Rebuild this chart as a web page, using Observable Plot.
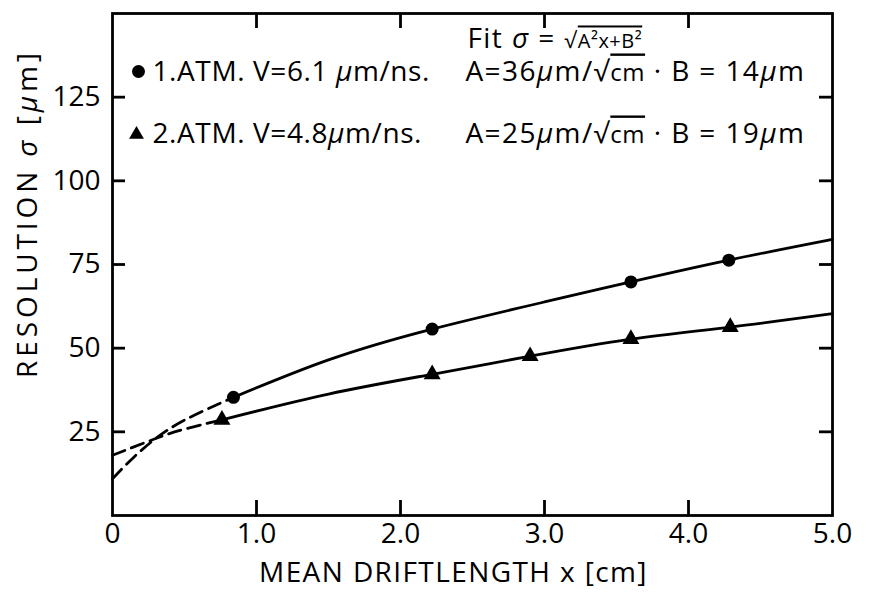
<!DOCTYPE html>
<html><head><meta charset="utf-8">
<script src="https://cdn.jsdelivr.net/npm/d3@7"></script>
<script src="https://cdn.jsdelivr.net/npm/@observablehq/plot@0.6"></script>
<style>body{margin:0;background:#fff} svg{display:block}</style>
</head><body><div id="chart"></div>
<script>
// ---- data ----
const xTicks = [0, 1, 2, 3, 4, 5];
const xTickLabels = ["0", "1.0", "2.0", "3.0", "4.0", "5.0"];
const xTickMarks = [1, 2, 3, 4];
const yTicks = [25, 50, 75, 100, 125];

// measured points
const atm1X = [0.84, 2.22, 3.6, 4.28];
const atm1Y = [35.3, 55.7, 69.8, 76.3];
const atm2X = [0.76, 2.22, 2.9, 3.6, 4.29];
const atm2Y = [28.6, 42.2, 47.6, 52.7, 56.3];

// fitted curves
const fit1DashX = [0, 0.15, 0.3, 0.5, 0.84];
const fit1DashY = [11, 17.5, 23, 28.5, 35.3];
const fit1X = [0.84, 1.5, 2.22, 3, 3.6, 4.28, 5];
const fit1Y = [35.3, 46.5, 55.7, 63.8, 69.8, 76.3, 82.5];
const fit2DashX = [0, 0.3, 0.5, 0.76];
const fit2DashY = [18, 23, 25.8, 28.6];
const fit2X = [0.76, 1.5, 2.22, 2.9, 3.6, 4.29, 5];
const fit2Y = [28.6, 36.3, 42.2, 47.6, 52.7, 56.3, 60.3];

const fitText = "Fit σ = √A²x+B²";
const row1Texts = ["1.ATM. V=6.1 μm/ns.", "A=36μm/√cm · B = 14μm"];
const row2Texts = ["2.ATM. V=4.8μm/ns.", "A=25μm/√cm · B = 19μm"];
const xLabel = "MEAN DRIFTLENGTH x [cm]";
const yLabel = "RESOLUTION σ [μm]";

// ---- build tables ----
const pts = (xs, ys) => xs.map((x, i) => ({x, y: ys[i]}));
const W = 871, H = 594;
const mL = 112, mR = 39, mT = 13, mB = 79;
const innerW = W - mL - mR, innerH = H - mT - mB;
const FS = 28;
const lw = 2.8;
const T = {lineAnchor: "middle", fontSize: FS};

const chart = Plot.plot({
  width: W, height: H,
  marginLeft: mL, marginRight: mR, marginTop: mT, marginBottom: mB,
  style: {fontFamily: "'Open Sans', Roboto, sans-serif", fontSize: FS + "px", fontWeight: 400, background: "#fff", color: "#000"},
  x: {domain: [0, 5]},
  y: {domain: [0, 150]},
  marks: [
    Plot.frame({stroke: "#000", strokeWidth: lw}),
    Plot.ruleX(xTickMarks, {x: d => d, insetTop: innerH - 15, stroke: "#000", strokeWidth: lw}),
    Plot.ruleX(xTickMarks, {x: d => d, insetBottom: innerH - 15, stroke: "#000", strokeWidth: lw}),
    Plot.ruleY(yTicks, {y: d => d, insetRight: innerW - 13, stroke: "#000", strokeWidth: lw}),
    Plot.ruleY(yTicks, {y: d => d, insetLeft: innerW - 13, stroke: "#000", strokeWidth: lw}),
    Plot.axisX({ticks: xTicks, tickSize: 0, tickPadding: 8, tickFormat: d => xTickLabels[xTicks.indexOf(d)], fontSize: FS, label: null}),
    Plot.axisY({ticks: yTicks, tickSize: 0, tickPadding: 12, fontSize: FS, label: null}),
    Plot.line(pts(fit1DashX, fit1DashY), {x: "x", y: "y", curve: "natural", stroke: "#000", strokeWidth: lw, strokeDasharray: "13,7"}),
    Plot.line(pts(fit2DashX, fit2DashY), {x: "x", y: "y", curve: "natural", stroke: "#000", strokeWidth: lw, strokeDasharray: "13,7"}),
    Plot.line(pts(fit1X, fit1Y), {x: "x", y: "y", curve: "natural", stroke: "#000", strokeWidth: lw}),
    Plot.line(pts(fit2X, fit2Y), {x: "x", y: "y", curve: "natural", stroke: "#000", strokeWidth: lw}),
    Plot.dot(pts(atm1X, atm1Y), {x: "x", y: "y", r: 6.5, fill: "#000", symbol: "circle"}),
    Plot.dot(pts(atm2X, atm2Y), {x: "x", y: "y", r: 6.3, fill: "#000", symbol: "triangle"}),
    // legend
    Plot.dot([0], {frameAnchor: "top-left", dx: 26, dy: 58, r: 6.5, fill: "#000", symbol: "circle"}),
    Plot.dot([0], {frameAnchor: "top-left", dx: 24, dy: 121, r: 5.5, fill: "#000", symbol: "triangle"}),
    Plot.text([fitText], {...T, frameAnchor: "top-left", textAnchor: "start", dx: 355, dy: 26}),
    Plot.text([row1Texts[0]], {...T, frameAnchor: "top-left", textAnchor: "start", dx: 40, dy: 59}),
    Plot.text([row1Texts[1]], {...T, frameAnchor: "top-left", textAnchor: "start", dx: 353, dy: 59}),
    Plot.text([row2Texts[0]], {...T, frameAnchor: "top-left", textAnchor: "start", dx: 40, dy: 121}),
    Plot.text([row2Texts[1]], {...T, frameAnchor: "top-left", textAnchor: "start", dx: 353, dy: 121}),
    Plot.text([xLabel], {...T, frameAnchor: "bottom", textAnchor: "middle", dy: 58, dx: -19}),
    Plot.text([yLabel], {...T, frameAnchor: "left", textAnchor: "middle", rotate: -90, dx: -84, dy: -51})
  ]
});

// rich text: italic Greek, overline for roots, wider lettering
const NS = "http://www.w3.org/2000/svg";
chart.querySelectorAll('g[aria-label="text"] text').forEach(t => {
  const s = t.textContent;
  t.style.letterSpacing = (s === yLabel ? 3.9 : s === row1Texts[0] || s === row2Texts[0] ? 0.6 : 1.4) + "px";
});
chart.querySelectorAll("text").forEach(t => {
  const s = t.textContent;
  if (!/[μσ√]/.test(s)) return;
  const parts = s.split(/(μ|σ|√cm|√A²x\+B²)/);
  t.textContent = "";
  for (const p of parts) {
    if (!p) continue;
    if (p === "μ" || p === "σ") {
      const ts = document.createElementNS(NS, "tspan");
      ts.setAttribute("font-style", "italic");
      ts.textContent = p;
      t.appendChild(ts);
    } else if (p.startsWith("√")) {
      const small = p !== "√cm";
      const r = document.createElementNS(NS, "tspan");
      r.textContent = "√";
      if (small) r.setAttribute("font-size", "22");
      t.appendChild(r);
      const o = document.createElementNS(NS, "tspan");
      o.textContent = p.slice(1);
      o.setAttribute("style", "text-decoration: overline; letter-spacing: 0.5px");
      o.setAttribute("font-size", small ? "20" : "24");
      t.appendChild(o);
    } else {
      t.appendChild(document.createTextNode(p));
    }
  }
});
document.getElementById("chart").appendChild(chart);
</script>
</body></html>
